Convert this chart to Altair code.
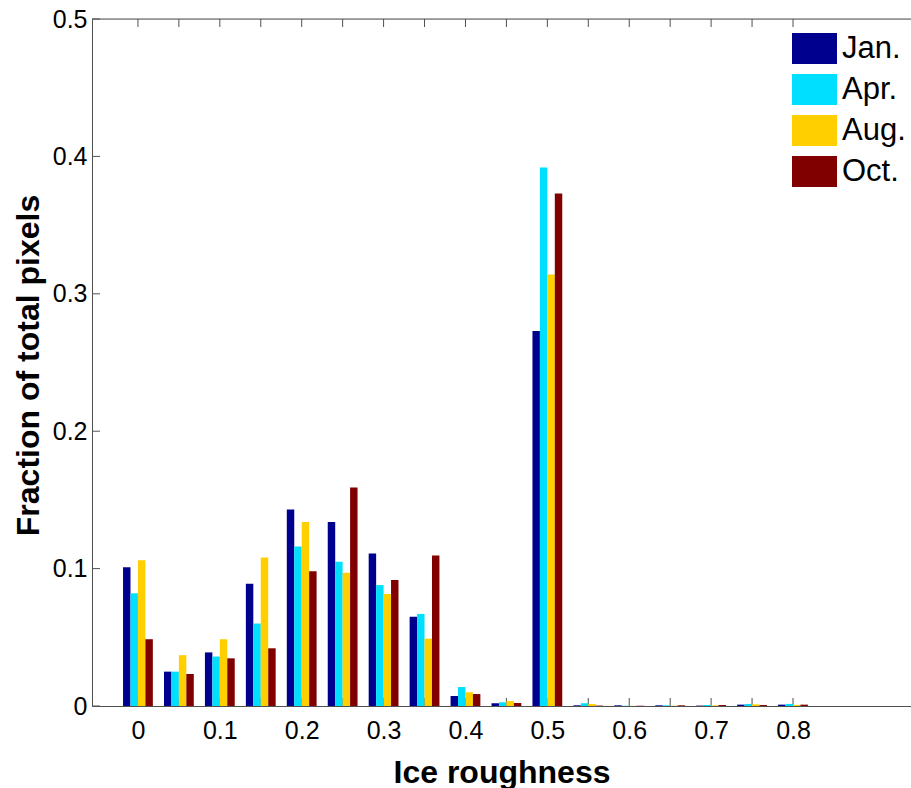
import altair as alt
import pandas as pd

# ---- data ----
groups = [0, 0.05, 0.1, 0.15, 0.2, 0.25, 0.3, 0.35, 0.4, 0.45, 0.5,
          0.55, 0.6, 0.65, 0.7, 0.75, 0.8]
months = ["Jan.", "Apr.", "Aug.", "Oct."]
jan = [0.101, 0.025, 0.039, 0.089, 0.143, 0.134, 0.111, 0.065, 0.0073, 0.0020, 0.273,
       0.0005, 0.0005, 0.0005, 0.0003, 0.0010, 0.0010]
apr = [0.082, 0.025, 0.036, 0.060, 0.116, 0.105, 0.088, 0.067, 0.0138, 0.0027, 0.392,
       0.0020, 0.0002, 0.0005, 0.0007, 0.0015, 0.0015]
aug = [0.106, 0.037, 0.0486, 0.108, 0.134, 0.097, 0.0815, 0.049, 0.0100, 0.0036, 0.314,
       0.0015, 0.0001, 0.0002, 0.0005, 0.0012, 0.0008]
octo = [0.0486, 0.0233, 0.0347, 0.042, 0.098, 0.159, 0.0917, 0.1096, 0.0087, 0.0022, 0.373,
        0.0003, 0.0002, 0.0005, 0.0007, 0.0007, 0.0010]
colors = ["#00008F", "#00DFFF", "#FFCF00", "#800000"]
x_tick_values = [0, 0.05, 0.1, 0.15, 0.2, 0.25, 0.3, 0.35, 0.4, 0.45, 0.5,
                 0.55, 0.6, 0.65, 0.7, 0.75, 0.8]
x_label_values = [0, 0.1, 0.2, 0.3, 0.4, 0.5, 0.6, 0.7, 0.8]
y_tick_values = [0, 0.1, 0.2, 0.3, 0.4, 0.5]

rows = []
for i, (m, vals) in enumerate(zip(months, [jan, apr, aug, octo])):
    for g, v in zip(groups, vals):
        rows.append({"group": g, "month": m, "idx": i, "value": v})
df = pd.DataFrame(rows)
xt = pd.DataFrame({"t": x_tick_values})
yt = pd.DataFrame({"t": y_tick_values})
one = pd.DataFrame({"k": [0]})

W, H = 819, 687
BW = 0.0091  # bar width in data units
FONT = "Liberation Sans"
AX = "#505050"

xscale = alt.Scale(domain=[-0.05, 0.938], nice=False, zero=False)
yscale = alt.Scale(domain=[0, 0.5], nice=False, zero=False)

x_axis = alt.Axis(values=x_label_values, format="~g", ticks=False, grid=False,
                  domainColor=AX, labelFontSize=25, labelPadding=12,
                  labelColor="black", labelFont=FONT,
                  title="Ice roughness", titleFontSize=32, titleFont=FONT,
                  titleFontWeight="bold", titleColor="black",
                  titleBaseline="alphabetic", titleY=76)
y_axis = alt.Axis(values=y_tick_values, format="~g", ticks=False, grid=False,
                  domainColor=AX, labelFontSize=25, labelPadding=5,
                  labelColor="black", labelFont=FONT,
                  title="Fraction of total pixels", titleFontSize=32,
                  titleFont=FONT, titleFontWeight="bold", titleColor="black",
                  titleBaseline="alphabetic", titleX=-54, titleY=346)

bars = alt.Chart(df).transform_calculate(
    x0=f"datum.group + (datum.idx - 2) * {BW}",
    x1=f"datum.group + (datum.idx - 1) * {BW}",
).mark_bar(orient="vertical").encode(
    x=alt.X("x0:Q", scale=xscale, axis=x_axis),
    x2="x1:Q",
    y=alt.Y("value:Q", scale=yscale, axis=y_axis),
    y2=alt.datum(0),
    color=alt.Color("month:N", scale=alt.Scale(domain=months, range=colors),
                    legend=alt.Legend(title=None, orient="none", legendX=700, legendY=7,
                                      symbolType="M-1,-0.689H1V0.689H-1Z",
                                      symbolSize=2025, symbolStrokeWidth=0,
                                      symbolOpacity=1,
                                      labelFontSize=31, labelFont=FONT,
                                      labelColor="black", rowPadding=2,
                                      labelOffset=5, padding=0)),
)

bottom_ticks = alt.Chart(xt).mark_rule(color=AX, strokeWidth=1).encode(
    x=alt.X("t:Q", scale=xscale, axis=x_axis), y=alt.value(H), y2=alt.value(H - 8))
top_ticks = alt.Chart(xt).mark_rule(color=AX, strokeWidth=1).encode(
    x=alt.X("t:Q", scale=xscale, axis=x_axis), y=alt.value(0), y2=alt.value(8))
left_ticks = alt.Chart(yt).mark_rule(color=AX, strokeWidth=1).encode(
    y=alt.Y("t:Q", scale=yscale, axis=y_axis), x=alt.value(0), x2=alt.value(8))
top_border = alt.Chart(one).mark_rule(color=AX, strokeWidth=1).encode(
    x=alt.value(0), x2=alt.value(W), y=alt.value(0))

chart = alt.layer(bottom_ticks, top_ticks, left_ticks, bars, top_border).properties(
    width=W, height=H,
    autosize=alt.AutoSizeParams(type="none"),
    padding={"left": 92, "top": 19, "right": 0, "bottom": 82},
    background="white",
).configure_view(stroke=None).configure(font=FONT)

chart.save("out.html", embed_options={"renderer": "svg", "actions": False})
